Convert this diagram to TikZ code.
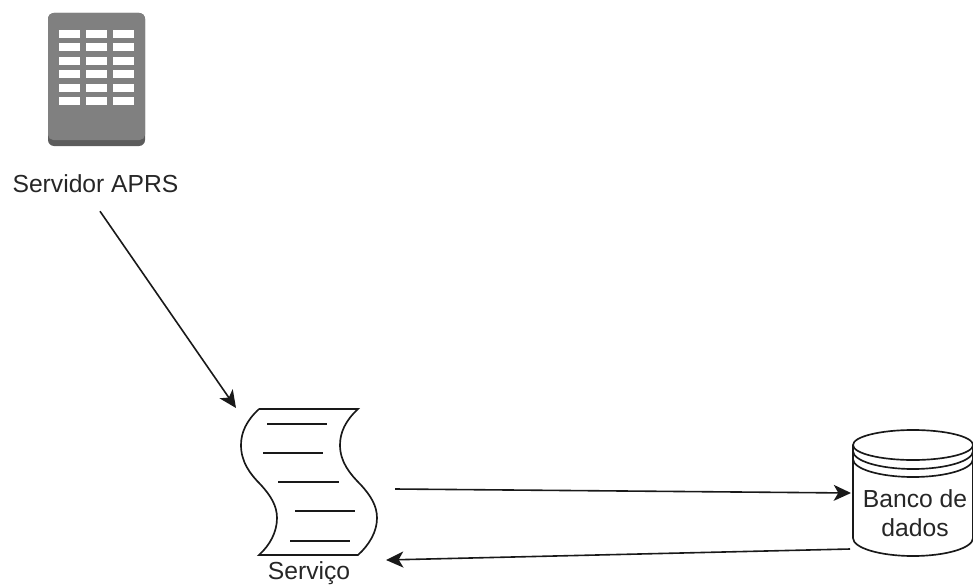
\documentclass[tikz,border=0pt]{standalone}
\usepackage{fontspec}
\setmainfont{Liberation Sans}
\usetikzlibrary{arrows.meta,positioning}
\definecolor{srvgray}{RGB}{128,128,128}
\definecolor{srvdark}{RGB}{92,92,92}

\begin{document}
\begin{tikzpicture}[
  x=0.75pt, y=-0.75pt,
  every node/.style={font=\fontsize{18.5pt}{21.4pt}\selectfont, inner sep=0pt, outer sep=0pt, text=black!85},
  line/.style={line width=1.25pt, draw=black!90},
  seta/.style={line width=1.2pt, draw=black!90, -{Stealth[length=13pt,width=12pt,inset=3.5pt]}},
  boxnode/.style={minimum width=#1, align=center}
]
\useasboundingbox (0,0) rectangle (973,585);
\clip (0,0) rectangle (973,585);

% servidor
\fill[srvdark, rounded corners=4.5pt] (48,13) rectangle (145,146);
\fill[srvgray, rounded corners=4pt] (48,13) rectangle (145,140);
\foreach \x in {59,86,113}
  \foreach \y in {30,43,57,70,84,97}
    \fill[white] (\x,\y) rectangle ++(21,8);
\node[anchor=base] (srvlabel) at (95.5,192) {Servidor APRS};

% servico
\node[minimum width=102pt, minimum height=109.5pt] (servico) at (309,482) {};
\node[anchor=base] (srvclabel) at (309,579) {Serviço};
\draw[line] (259,409) -- (358,409)
  .. controls (345,421) and (340,433) .. (340,445)
  .. controls (340,462) and (350,474) .. (361,485)
  .. controls (371,496) and (377,506) .. (377,518)
  .. controls (377,532) and (369,545) .. (358,555)
  -- (259,555)
  .. controls (270,545) and (277,532) .. (277,518)
  .. controls (277,506) and (271,496) .. (261,485)
  .. controls (250,474) and (241,462) .. (241,445)
  .. controls (241,433) and (246,421) .. (259,409);
\foreach \xa/\xb/\y in {267/327/424, 263/323/453, 278/339/482, 295/355/511, 290/350/541}
  \draw[line] (\xa,\y) -- (\xb,\y);

% banco de dados
\node[boxnode=90pt, minimum height=64.5pt] (banco) at (915,513) {Banco de\\dados};
\draw[line] (853,445) -- (853,538)
  .. controls (853,548) and (880,556) .. (913,556)
  .. controls (946,556) and (973,548) .. (973,538) -- (973,445);
\draw[line] (913,445) ellipse [x radius=60, y radius=15];
\draw[line] (853,451) .. controls (853,461) and (880,469) .. (913,469)
  .. controls (946,469) and (973,461) .. (973,451);
\draw[line] (853,459) .. controls (853,469) and (880,477) .. (913,477)
  .. controls (946,477) and (973,469) .. (973,459);

% conexoes
\draw[seta] ([shift={(4.5,19)}]srvlabel.south) -- ([shift={(-73,-74)}]servico.center);
\draw[seta] ([shift={(18,7)}]servico.east) -- ([shift={(-4,-20)}]banco.west);
\draw[seta] ([shift={(-5,36)}]banco.west) -- ([shift={(9,78)}]servico.east);
\end{tikzpicture}
\end{document}
